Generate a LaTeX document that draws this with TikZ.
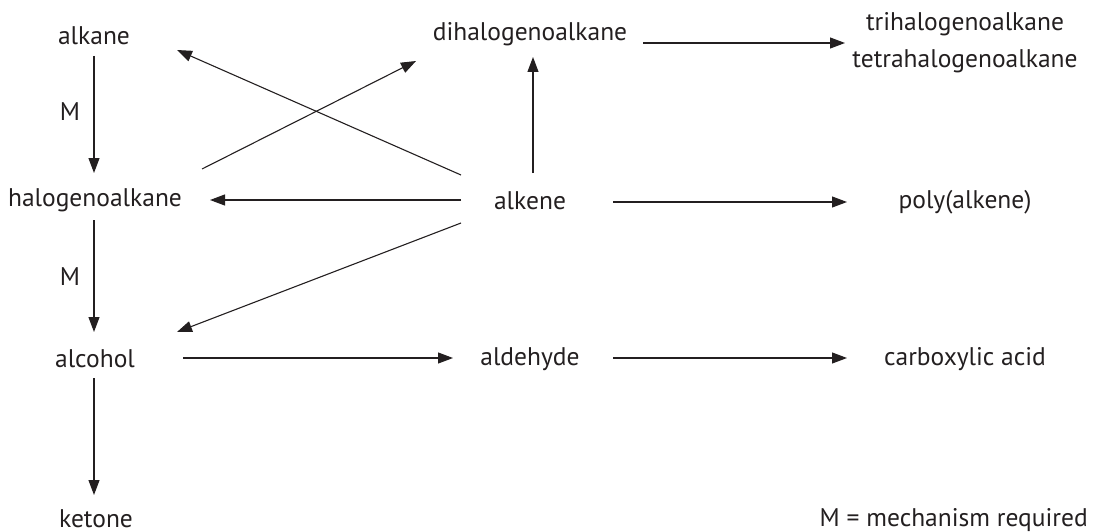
\documentclass[tikz,border=0pt]{standalone}
\usepackage{fontspec}
\setmainfont{PT Sans}
\usetikzlibrary{arrows.meta}
\definecolor{ink}{HTML}{231F20}
\begin{document}
\begin{tikzpicture}[x=1pt,y=-1pt,
  lbl/.style={inner sep=0pt, text=ink, font=\fontsize{25.5}{37}\selectfont, align=center},
  arr/.style={draw=ink, line width=1.1pt, -{Triangle[length=15pt,width=11pt]}}]
\useasboundingbox (0,0) rectangle (1094,532);
% nodes
\node[lbl] (alkane) at (94,36) {alkane};
\node[lbl] (dihalo) at (530,34) {dihalogenoalkane};
\node[lbl] (tri) at (965,43) {trihalogenoalkane\\tetrahalogenoalkane};
\node[lbl] (halo) at (95,200) {halogenoalkane};
\node[lbl] (alkene) at (530,201) {alkene};
\node[lbl] (poly) at (965,202) {poly(alkene)};
\node[lbl] (alcohol) at (95,359) {alcohol};
\node[lbl] (aldehyde) at (530,359) {aldehyde};
\node[lbl] (carb) at (965,359) {carboxylic acid};
\node[lbl, align=none, anchor=base] (ketone) at (96,527) {ketone};
\node[lbl, align=none, anchor=base east] (note) at (1088,526) {M = mechanism required};
\node[lbl] (m1) at (70,112) {M};
\node[lbl] (m2) at (70,277) {M};
% connectors
\draw[arr] ([shift={(0,20)}]alkane.center) -- ([shift={(-1,-27)}]halo.center);
\draw[arr] ([shift={(-1,20)}]halo.center) -- ([shift={(-1,-27)}]alcohol.center);
\draw[arr] ([shift={(-1,19)}]alcohol.center) -- ([shift={(-2,-32)}]ketone.base);
\draw[arr] ([shift={(-69,-1)}]alkene.center) -- ([shift={(115,0)}]halo.center);
\draw[arr] ([shift={(-69,-26)}]alkene.center) -- ([shift={(83,14)}]alkane.center);
\draw[arr] ([shift={(107,-31)}]halo.center) -- ([shift={(-114,27)}]dihalo.center);
\draw[arr] ([shift={(3,-28)}]alkene.center) -- ([shift={(3,23)}]dihalo.center);
\draw[arr] ([shift={(-69,22)}]alkene.center) -- ([shift={(82,-27)}]alcohol.center);
\draw[arr] ([shift={(113,9)}]dihalo.center) -- ([shift={(-120,0)}]tri.center);
\draw[arr] ([shift={(83,1)}]alkene.center) -- ([shift={(-118,0)}]poly.center);
\draw[arr] ([shift={(88,-1)}]alcohol.center) -- ([shift={(-77,-1)}]aldehyde.center);
\draw[arr] ([shift={(83,-1)}]aldehyde.center) -- ([shift={(-118,-1)}]carb.center);
\end{tikzpicture}
\end{document}
